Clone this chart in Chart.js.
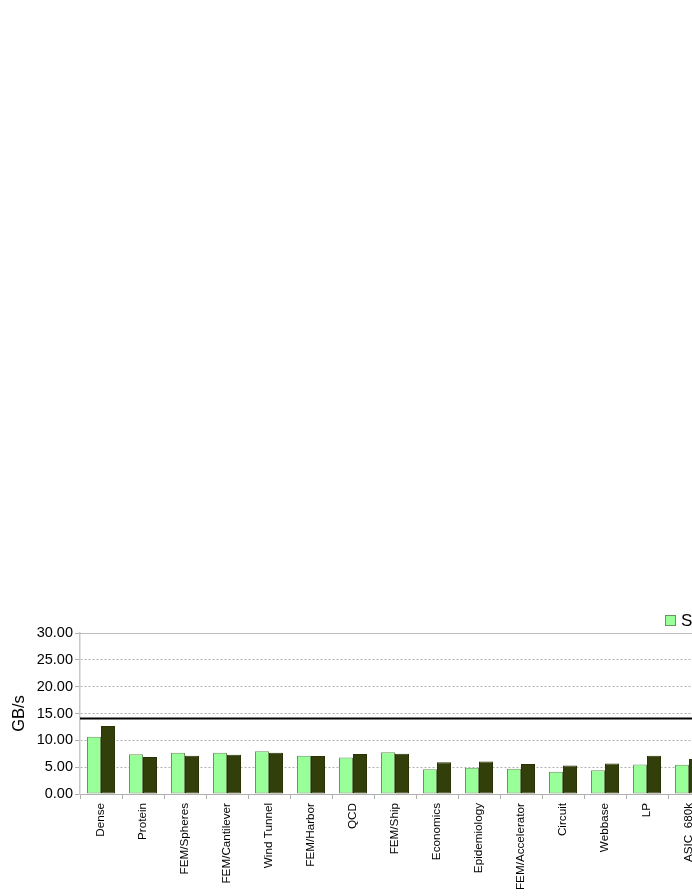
<!DOCTYPE html>
<html>
<head>
<meta charset="utf-8">
<script src="https://cdn.jsdelivr.net/npm/chart.js@4.4.1/dist/chart.umd.min.js"></script>
<style>
  html, body { margin: 0; padding: 0; background: #FFFFFF; overflow: hidden; }
  body { width: 692px; height: 896px; position: relative; }
  #wrap { position: absolute; left: 0; top: 600px; width: 760px; height: 330px; }
</style>
</head>
<body>
<div id="wrap"><canvas id="chart"></canvas></div>
<script>
const categories = [
  "Dense", "Protein", "FEM/Spheres", "FEM/Cantilever", "Wind Tunnel",
  "FEM/Harbor", "QCD", "FEM/Ship", "Economics", "Epidemiology",
  "FEM/Accelerator", "Circuit", "Webbase", "LP", "ASIC_680k",
];
const seriesNames = ["Socket 1", "Socket 2"];
const singleValues = [10.67, 7.4, 7.7, 7.7, 7.96, 7.15, 6.78, 7.78, 4.63, 4.87, 4.69, 4.13, 4.44, 5.48, 5.43];
const dualValues = [12.65, 6.9, 7.15, 7.33, 7.7, 7.1, 7.46, 7.52, 5.93, 6.04, 5.61, 5.3, 5.67, 7.15, 6.54];
const yTicks = [0, 5, 10, 15, 20, 25, 30];
const peakBandwidth = 14.25;

const FONT = '"Liberation Sans", Arial, sans-serif';
const LIGHT = "#99FF99";
const LIGHT_EDGE = "#6E9160";
const DARK = "#333F0A";
const DARK_EDGE = "#2A3306";
const GRID = "#B0B0B0";

// solid reference line across the whole plot, plus the solid top edge
const peakLinePlugin = {
  id: "peakLine",
  afterDatasetsDraw(chart, args, opts) {
    const { ctx, chartArea, scales } = chart;
    const y = Math.round(scales.y.getPixelForValue(opts.value)) + 0.5;
    ctx.save();
    ctx.strokeStyle = opts.frame;
    ctx.lineWidth = 1;
    ctx.beginPath();
    ctx.moveTo(chartArea.left, Math.round(chartArea.top) + 0.5);
    ctx.lineTo(chartArea.right, Math.round(chartArea.top) + 0.5);
    ctx.stroke();
    ctx.strokeStyle = opts.color;
    ctx.lineWidth = opts.width;
    ctx.beginPath();
    ctx.moveTo(chartArea.left, y);
    ctx.lineTo(chartArea.right, y);
    ctx.stroke();
    ctx.restore();
  },
};

// legend sitting above the top right of the plot
const cornerLegendPlugin = {
  id: "cornerLegend",
  afterDraw(chart, args, opts) {
    const { ctx, chartArea } = chart;
    let x = opts.x;
    const top = chartArea.top - opts.offset;
    ctx.save();
    ctx.font = `${opts.size}px ${FONT}`;
    ctx.textBaseline = "middle";
    chart.data.datasets.forEach((ds) => {
      ctx.fillStyle = ds.backgroundColor;
      ctx.fillRect(x, top, opts.box, opts.box);
      ctx.strokeStyle = ds.borderColor;
      ctx.lineWidth = 1;
      ctx.strokeRect(x + 0.5, top + 0.5, opts.box - 1, opts.box - 1);
      ctx.fillStyle = "#000000";
      ctx.fillText(ds.label, x + opts.box + 5, top + opts.box / 2 + 1);
      x += opts.box + 5 + ctx.measureText(ds.label).width + 12;
    });
    ctx.restore();
  },
};

new Chart(document.getElementById("chart"), {
  type: "bar",
  plugins: [peakLinePlugin, cornerLegendPlugin],
  data: {
    labels: categories,
    datasets: [
      {
        label: seriesNames[0],
        data: singleValues,
        backgroundColor: LIGHT,
        borderColor: LIGHT_EDGE,
        borderWidth: 1,
        borderSkipped: false,
        barPercentage: 1,
        categoryPercentage: 0.667,
      },
      {
        label: seriesNames[1],
        data: dualValues,
        backgroundColor: DARK,
        borderColor: DARK_EDGE,
        borderWidth: 1,
        borderSkipped: false,
        barPercentage: 1,
        categoryPercentage: 0.667,
      },
    ],
  },
  options: {
    responsive: true,
    maintainAspectRatio: false,
    animation: false,
    layout: {
      padding: { top: 33, right: 50, left: 0, bottom: 0 },
    },
    plugins: {
      legend: { display: false },
      tooltip: { enabled: false },
      peakLine: { value: peakBandwidth, color: "#000000", width: 2, frame: "#BDBDBD" },
      cornerLegend: { x: 665, offset: 18, box: 11, size: 17 },
    },
    scales: {
      x: {
        afterFit(scale) {
          scale.height = 136;
        },
        grid: {
          drawOnChartArea: false,
          drawTicks: true,
          tickLength: 5,
          color: GRID,
        },
        border: { color: GRID, width: 1 },
        ticks: {
          color: "#000000",
          maxRotation: 90,
          minRotation: 90,
          autoSkip: false,
          padding: 4,
          font: { family: FONT, size: 11.7 },
        },
      },
      y: {
        min: 0,
        max: 30,
        afterFit(scale) {
          scale.width = 80;
        },
        afterBuildTicks(scale) {
          scale.ticks = yTicks.map((value) => ({ value }));
        },
        grid: {
          color: GRID,
          tickLength: 5,
          tickBorderDash: [],
        },
        border: { color: "#C8C8C8", width: 1.5, dash: [2, 2] },
        ticks: {
          color: "#000000",
          padding: 2,
          font: { family: FONT, size: 14.5 },
          callback(value) {
            return Number(value).toFixed(2);
          },
        },
        title: {
          display: true,
          text: "GB/s",
          color: "#000000",
          font: { family: FONT, size: 16.5 },
          padding: { top: 10, bottom: 0 },
        },
      },
    },
  },
});
</script>
</body>
</html>
